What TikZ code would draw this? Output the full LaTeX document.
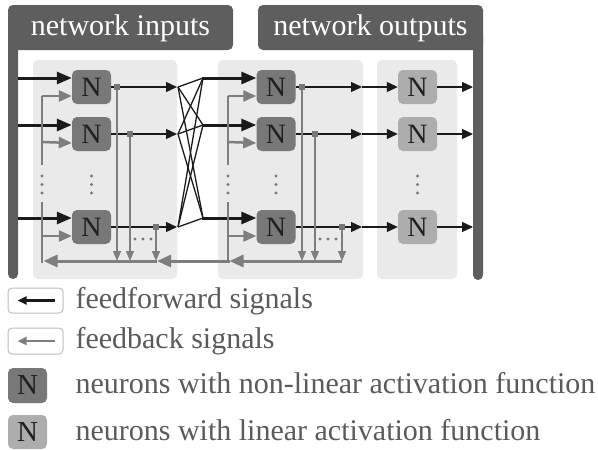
\documentclass[tikz,border=0pt]{standalone}
\usepackage{fontspec}
\setmainfont{Liberation Serif}
\usetikzlibrary{arrows.meta}
\definecolor{barc}{HTML}{5E5E5E}
\definecolor{panelc}{HTML}{EAEAEA}
\definecolor{nlc}{HTML}{787878}
\definecolor{linc}{HTML}{ADADAD}
\definecolor{fbc}{HTML}{7E7E7E}
\definecolor{ffc}{HTML}{1A1A1A}
\definecolor{txtc}{HTML}{5A5A5A}
\definecolor{ntc}{HTML}{202020}
\definecolor{dotc}{HTML}{777777}
\definecolor{legc}{HTML}{BDBDBD}
\begin{document}
\begin{tikzpicture}[x=1pt,y=-1pt,
  neuron/.style={rectangle, rounded corners=5pt, minimum width=39pt, minimum height=34pt, inner sep=0pt, font=\fontsize{28}{28}\selectfont, text=ntc},
  nonlinneuron/.style={neuron, fill=nlc},
  linneuron/.style={neuron, fill=linc},
  panelbox/.style={fill=panelc, rounded corners=5pt},
  barbox/.style={fill=barc, rounded corners=5pt},
  headtext/.style={anchor=base, text=white, font=\fontsize{30}{36}\selectfont},
  legtext/.style={anchor=base west, text=txtc, font=\fontsize{30}{36}\selectfont},
  ffin/.style={draw=ffc, line width=3pt, -{Triangle[length=15pt,width=12pt]}},
  ffthin/.style={draw=ffc, line width=1.3pt, -{Triangle[length=11pt,width=10pt]}},
  crossline/.style={draw=ffc, line width=1.3pt},
  fbin/.style={draw=fbc, line width=2.5pt, -{Triangle[length=13pt,width=11pt]}},
  fbline/.style={draw=fbc, line width=2.5pt},
  fbdown/.style={draw=fbc, line width=1.4pt, -{Triangle[length=10pt,width=8pt]}},
  fbbus/.style={draw=fbc, line width=3pt, -{Triangle[length=14pt,width=12pt]}},
  sq/.style={rectangle, fill=dotc, minimum size=6pt, inner sep=0pt},
  dotmark/.style={circle, fill=dotc, minimum size=3.2pt, inner sep=0pt},
  legbox/.style={draw=legc, line width=1pt, fill=white, rounded corners=4pt}
]
\useasboundingbox (0,0) rectangle (598,450);

% headers and bars
\fill[barbox] (8,5) rectangle (233,50);
\fill[barbox] (8,30) rectangle (18,279);
\node[headtext] (hin) at (120.5,35) {network inputs};
\fill[barbox] (258,5) rectangle (483,50);
\fill[barbox] (473,30) rectangle (483,280);
\node[headtext] (hout) at (370.5,35) {network outputs};

% panels
\fill[panelc, rounded corners=5pt] (33,60) rectangle (177,279);
\fill[panelc, rounded corners=5pt] (218,60) rectangle (363,279);
\fill[panelc, rounded corners=5pt] (377,60) rectangle (457,279);

% neurons
\node[nonlinneuron] (a1) at (91.5,87) {N};
\node[nonlinneuron] (a2) at (91.5,134) {N};
\node[nonlinneuron] (a3) at (91.5,227) {N};
\node[nonlinneuron] (b1) at (276,87) {N};
\node[nonlinneuron] (b2) at (276,134) {N};
\node[nonlinneuron] (b3) at (276,227) {N};
\node[linneuron] (c1) at (417.5,87) {N};
\node[linneuron] (c2) at (417.5,134) {N};
\node[linneuron] (c3) at (417.5,227) {N};

% vertical dots
\foreach \x/\n in {42/p, 91.5/q, 228/r, 276/s, 417.5/t}{
  \node[dotmark] (\n1) at (\x,176) {};
  \node[dotmark] (\n2) at (\x,184.5) {};
  \node[dotmark] (\n3) at (\x,193) {};
}

% ---- panel 1 inputs
\foreach \k/\y in {1/78,2/125,3/218}{
  \coordinate (ia\k) at (18,\y);
  \draw[ffin] (ia\k) -- ([yshift=9pt]a\k.west);
}
\coordinate (fa0) at (42,96);
\coordinate (fa1) at (42,165);
\coordinate (fa2) at (42,142);
\coordinate (fa3) at (42,236);
\coordinate (fa4) at (42,202);
\coordinate (fa5) at (42,262.5);
\draw[fbline] (fa1) -- (fa0);
\draw[fbline] (fa4) -- (fa5);
\draw[fbin] (fa0) -- ([yshift=-9pt]a1.west);
\draw[fbin] (fa2) -- ([yshift=-9pt]a2.west);
\draw[fbin] (fa3) -- ([yshift=-9pt]a3.west);

% ---- panel 1 outputs
\coordinate (oa1) at (177,87);
\coordinate (oa2) at (177,134);
\coordinate (oa3) at (177,227);
\foreach \k in {1,2,3}{\draw[ffthin] (a\k.east) -- (oa\k);}
\node[sq] (sa1) at (117,87) {};
\node[sq] (sa2) at (130,134) {};
\node[sq] (sa3) at (156,227) {};
\foreach \k in {1,2,3}{
  \coordinate (da\k) at (sa\k |- 0,261);
  \draw[fbdown] (sa\k) -- (da\k);
}
\node[dotmark] (ha1) at (135,239) {};
\node[dotmark] (ha2) at (143,239) {};
\node[dotmark] (ha3) at (151,239) {};
\coordinate (busa0) at (157,261);
\coordinate (busa1) at (43.5,261);
\draw[fbbus] (busa0) -- (busa1);

% ---- crossings
\foreach \k/\y in {1/87,2/134,3/227}{\coordinate (xl\k) at (178,\y);}
\foreach \k/\y in {1/78,2/125,3/218}{\coordinate (xr\k) at (203,\y);}
\foreach \i in {1,2,3}{\foreach \j in {1,2,3}{\draw[crossline] (xl\i) -- (xr\j);}}

% ---- panel 2 inputs
\foreach \k in {1,2,3}{\draw[ffin] ([xshift=-0.6pt]xr\k) -- ([yshift=9pt]b\k.west);}
\coordinate (fb0) at (228,96);
\coordinate (fb1) at (228,165);
\coordinate (fb2) at (228,142);
\coordinate (fb3) at (228,236);
\coordinate (fb4) at (228,202);
\coordinate (fb5) at (228,262.5);
\draw[fbline] (fb1) -- (fb0);
\draw[fbline] (fb4) -- (fb5);
\draw[fbin] (fb0) -- ([yshift=-9pt]b1.west);
\draw[fbin] (fb2) -- ([yshift=-9pt]b2.west);
\draw[fbin] (fb3) -- ([yshift=-9pt]b3.west);

% ---- panel 2 outputs
\coordinate (ob1) at (362,87);
\coordinate (ob2) at (362,134);
\coordinate (ob3) at (362,227);
\foreach \k in {1,2,3}{\draw[ffthin] (b\k.east) -- (ob\k);}
\node[sq] (sb1) at (302,87) {};
\node[sq] (sb2) at (315,134) {};
\node[sq] (sb3) at (342,227) {};
\foreach \k in {1,2,3}{
  \coordinate (db\k) at (sb\k |- 0,261);
  \draw[fbdown] (sb\k) -- (db\k);
}
\node[dotmark] (hb1) at (320,239) {};
\node[dotmark] (hb2) at (328,239) {};
\node[dotmark] (hb3) at (336,239) {};
\coordinate (busb0) at (342,261);
\coordinate (busb1) at (229.5,261);
\draw[fbbus] (busb0) -- (busb1);
\draw[fbbus] (busb1) -- (busa0);

% ---- panel 3
\foreach \k in {1,2,3}{\draw[ffthin] (ob\k) -- (c\k.west);}
\foreach \k/\y in {1/87,2/134,3/227}{
  \coordinate (oc\k) at (473,\y);
  \draw[ffthin] (c\k.east) -- (oc\k);
}

% ---- legend
\node[legbox, minimum width=55pt, minimum height=25pt, inner sep=0pt] (lg1) at (35.5,300.5) {};
\draw[draw=ffc, line width=2.5pt, -{Triangle[length=9pt,width=8pt]}] ([xshift=-9pt]lg1.east) -- ([xshift=10pt]lg1.west);
\node[legtext] (lt1) at (72,308) {feedforward signals};
\node[legbox, minimum width=55pt, minimum height=26pt, inner sep=0pt] (lg2) at (35.5,341) {};
\draw[draw=fbc, line width=2.5pt, -{Triangle[length=9pt,width=8pt]}] ([xshift=-9pt]lg2.east) -- ([xshift=10pt]lg2.west);
\node[legtext] (lt2) at (72,348) {feedback signals};
\node[nonlinneuron, minimum height=35pt, font=\fontsize{29}{29}\selectfont] (lg3) at (27.5,385.5) {N};
\node[legtext] (lt3) at (72,393) {neurons with non-linear activation function};
\node[linneuron, minimum height=34pt, font=\fontsize{29}{29}\selectfont] (lg4) at (27.5,432) {N};
\node[legtext] (lt4) at (72,440) {neurons with linear activation function};
\end{tikzpicture}
\end{document}
